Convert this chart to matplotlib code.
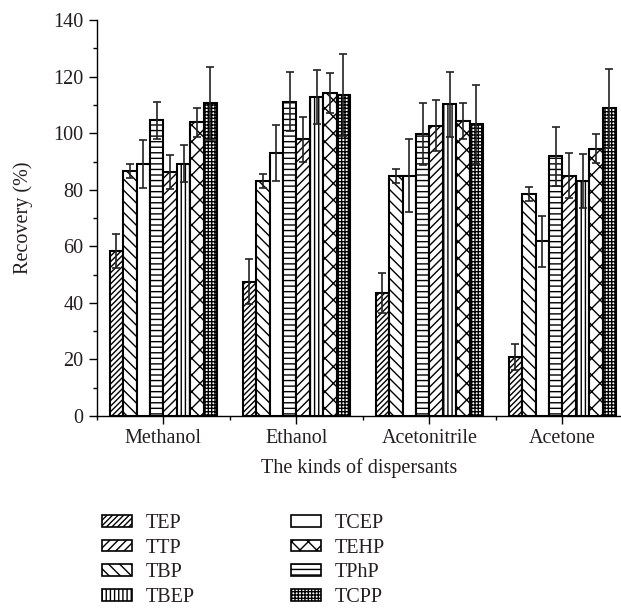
import matplotlib
matplotlib.use("Agg")
import matplotlib.pyplot as plt
from matplotlib.patches import Patch
import numpy as np

plt.rcParams['font.family'] = ['Liberation Serif', 'DejaVu Serif']
plt.rcParams['hatch.linewidth'] = 1.0

solvents = ["Methanol", "Ethanol", "Acetonitrile", "Acetone"]

# order of bars inside each group
compounds = ["TEP", "TBP", "TCEP", "TPhP", "TTP", "TBEP", "TEHP", "TCPP"]

recovery = {
    "TEP":  [58.5, 47.5, 43.5, 20.8],
    "TBP":  [86.5, 83.2, 84.8, 78.6],
    "TCEP": [89.2, 93.0, 85.0, 61.8],
    "TPhP": [104.6, 111.2, 99.6, 91.8],
    "TTP":  [86.2, 97.8, 102.6, 85.0],
    "TBEP": [89.2, 112.8, 110.2, 83.0],
    "TEHP": [103.8, 114.3, 104.3, 94.6],
    "TCPP": [110.6, 113.4, 103.2, 108.8],
}

errors = {
    "TEP":  [6.0, 8.0, 7.0, 4.5],
    "TBP":  [2.5, 2.5, 2.5, 2.5],
    "TCEP": [8.5, 10.0, 13.0, 9.0],
    "TPhP": [6.5, 10.5, 11.0, 10.5],
    "TTP":  [6.0, 8.0, 9.0, 8.0],
    "TBEP": [6.5, 9.5, 11.5, 9.5],
    "TEHP": [5.0, 7.0, 6.5, 5.0],
    "TCPP": [13.0, 14.5, 14.0, 14.0],
}

hatches = {
    "TEP": "//////",
    "TTP": "////",
    "TBP": "\\\\\\",
    "TBEP": "||||",
    "TCEP": "",
    "TEHP": "xx",
    "TPhP": "---",
    "TCPP": "+++++",
}

legend_order = ["TEP", "TTP", "TBP", "TBEP", "TCEP", "TEHP", "TPhP", "TCPP"]

fs = 14.5
ink = "#231f20"

fig = plt.figure(figsize=(6.21, 6.10), dpi=100)
ax = fig.add_axes([0.156, 0.318, 0.844, 0.649])

x = np.arange(len(solvents))
width = 0.101
n = len(compounds)
for i, c in enumerate(compounds):
    pos = x + (i - (n - 1) / 2) * width
    ax.bar(pos, recovery[c], width, facecolor="white", edgecolor="black",
           linewidth=1.5, hatch=hatches[c], zorder=2)
    ax.errorbar(pos, recovery[c], yerr=errors[c], fmt="none", ecolor="#222222",
                elinewidth=1.2, capsize=3, capthick=1.2, zorder=3)

ax.set_xlim(-0.49, 3.44)
ax.set_ylim(0, 140)
ax.set_yticks(np.arange(0, 141, 20))
ax.set_yticks(np.arange(0, 141, 10), minor=True)
ax.set_xticks(x)
ax.set_xticklabels(solvents)
ax.set_xticks([-0.5, 0.5, 1.5, 2.5], minor=True)

for s in ["top", "right"]:
    ax.spines[s].set_visible(False)
ax.spines["left"].set_linewidth(1.0)
ax.spines["bottom"].set_linewidth(1.0)
ax.tick_params(axis="both", which="major", direction="out", length=6, width=1.0,
               labelsize=fs, labelcolor=ink)
ax.tick_params(axis="both", which="minor", direction="out", length=3, width=1.0)

ax.set_ylabel("Recovery (%)", fontsize=fs, color=ink, labelpad=15)
ax.set_xlabel("The kinds of dispersants", fontsize=fs, color=ink, labelpad=7)

handles = [Patch(facecolor="white", edgecolor="black", linewidth=1.2,
                 hatch=hatches[c], label=c) for c in legend_order]
leg = fig.legend(handles=handles, ncol=2, loc="upper left", bbox_to_anchor=(0.135, 0.187),
                 frameon=False, fontsize=fs, handlelength=1.5, handleheight=0.5,
                 columnspacing=4.8, labelspacing=0.28, handletextpad=0.65)
for t in leg.get_texts():
    t.set_color(ink)

fig.savefig("out.png", dpi=100)
